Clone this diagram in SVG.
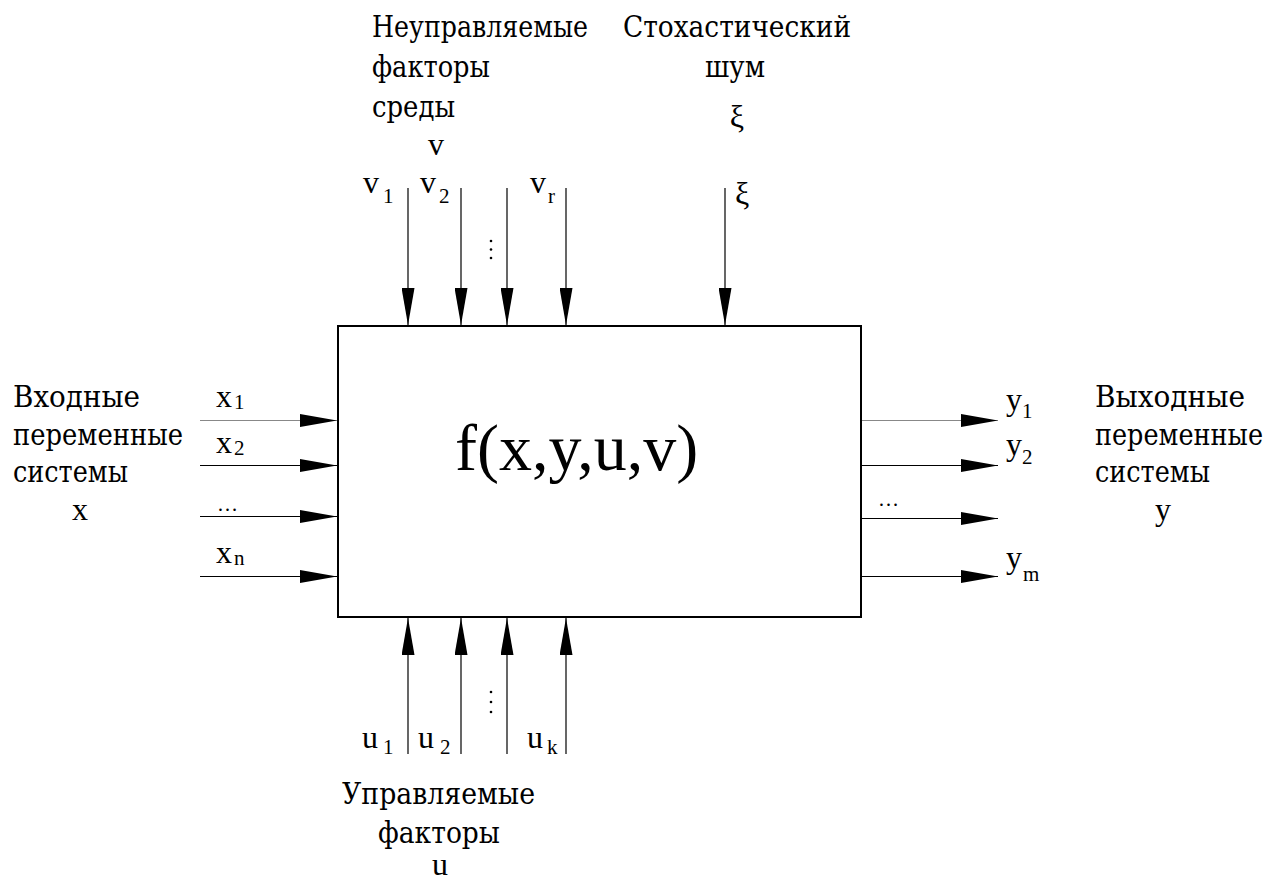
<svg xmlns="http://www.w3.org/2000/svg" width="1272" height="879" viewBox="0 0 1272 879">
<style>
text{font-family:"Liberation Serif","Times New Roman",serif;fill:#000}
.lb{font-size:32px}
.cy{font-family:"DejaVu Serif","Liberation Serif",serif;font-size:29px}
.sub{font-size:21px}
.ln{stroke:#000;stroke-width:1.2;fill:none}
.lg{stroke:#888;stroke-width:1.2;fill:none}
.box{fill:#fff;stroke:#000;stroke-width:2}
</style>
<defs>
<marker id="ah" viewBox="0 0 37 13" markerWidth="37" markerHeight="13" refX="37" refY="6.5" orient="auto" markerUnits="userSpaceOnUse">
<path d="M0,0 L37,6.5 L0,13 Z" fill="#000"/>
</marker>
</defs>
<rect width="1272" height="879" fill="#fff"/>
<g id="system">
<rect class="box" x="338" y="326" width="523" height="291"/>
<text x="455" y="470" font-size="66">f(x,y,u,v)</text>
</g>
<g id="connectors">
<line class="lg" x1="200" y1="420.5" x2="337" y2="420.5" marker-end="url(#ah)"/>
<line class="ln" x1="200" y1="465.5" x2="337" y2="465.5" marker-end="url(#ah)"/>
<line class="ln" x1="200" y1="516.5" x2="337" y2="516.5" marker-end="url(#ah)"/>
<line class="ln" x1="200" y1="576.5" x2="337" y2="576.5" marker-end="url(#ah)"/>
<line class="lg" x1="862" y1="420.5" x2="998" y2="420.5" marker-end="url(#ah)"/>
<line class="ln" x1="862" y1="465.5" x2="998" y2="465.5" marker-end="url(#ah)"/>
<line class="ln" x1="862" y1="518.5" x2="998" y2="518.5" marker-end="url(#ah)"/>
<line class="ln" x1="862" y1="576.5" x2="998" y2="576.5" marker-end="url(#ah)"/>
<line class="ln" x1="408" y1="188" x2="408" y2="325" marker-end="url(#ah)"/>
<line class="ln" x1="461" y1="188" x2="461" y2="325" marker-end="url(#ah)"/>
<line class="ln" x1="507" y1="188" x2="507" y2="325" marker-end="url(#ah)"/>
<line class="ln" x1="566" y1="188" x2="566" y2="325" marker-end="url(#ah)"/>
<line class="ln" x1="725" y1="188" x2="725" y2="325" marker-end="url(#ah)"/>
<line class="ln" x1="408" y1="754" x2="408" y2="618" marker-end="url(#ah)"/>
<line class="ln" x1="461" y1="754" x2="461" y2="618" marker-end="url(#ah)"/>
<line class="ln" x1="507" y1="754" x2="507" y2="618" marker-end="url(#ah)"/>
<line class="ln" x1="566" y1="754" x2="566" y2="618" marker-end="url(#ah)"/>
</g>
<g id="uncontrolled-factors">
<text class="cy" x="372" y="37" textLength="216" lengthAdjust="spacingAndGlyphs">Неуправляемые</text>
<text class="cy" x="372" y="77" textLength="118" lengthAdjust="spacingAndGlyphs">факторы</text>
<text class="cy" x="372" y="117" textLength="83" lengthAdjust="spacingAndGlyphs">среды</text>
<text class="lb" x="428" y="155">v</text>
<text class="lb" x="363" y="193">v</text><text class="sub" x="383" y="203">1</text>
<text class="lb" x="420" y="193">v</text><text class="sub" x="439" y="203">2</text>
<text class="lb" x="530" y="193">v</text><text class="sub" x="548" y="203">r</text>
<circle cx="491" cy="241" r="1.3"/><circle cx="491" cy="249.5" r="1.3"/><circle cx="491" cy="258" r="1.3"/>
</g>
<g id="noise">
<text class="cy" x="623" y="37" textLength="228" lengthAdjust="spacingAndGlyphs">Стохастический</text>
<text class="cy" x="705" y="77" textLength="60" lengthAdjust="spacingAndGlyphs">шум</text>
<text class="lb" x="737" y="127" text-anchor="middle">ξ</text>
<text class="lb" x="735" y="204">ξ</text>
</g>
<g id="inputs">
<text class="cy" x="13" y="407" textLength="127" lengthAdjust="spacingAndGlyphs">Входные</text>
<text class="cy" x="13" y="445" textLength="170" lengthAdjust="spacingAndGlyphs">переменные</text>
<text class="cy" x="13" y="482" textLength="115" lengthAdjust="spacingAndGlyphs">системы</text>
<text class="lb" x="72" y="520">x</text>
<text class="lb" x="216" y="407">x</text><text class="sub" x="234" y="409">1</text>
<text class="lb" x="216" y="453">x</text><text class="sub" x="234" y="455">2</text>
<text class="sub" x="217" y="511">…</text>
<text class="lb" x="216" y="563">x</text><text class="sub" x="234" y="565">n</text>
</g>
<g id="outputs">
<text class="cy" x="1095" y="407" textLength="150" lengthAdjust="spacingAndGlyphs">Выходные</text>
<text class="cy" x="1095" y="445" textLength="168" lengthAdjust="spacingAndGlyphs">переменные</text>
<text class="cy" x="1095" y="482" textLength="115" lengthAdjust="spacingAndGlyphs">системы</text>
<text class="lb" x="1155" y="520">y</text>
<text class="lb" x="1006" y="410">y</text><text class="sub" x="1022" y="418">1</text>
<text class="lb" x="1006" y="455">y</text><text class="sub" x="1022" y="464">2</text>
<text class="sub" x="878" y="506">…</text>
<text class="lb" x="1006" y="568">y</text><text class="sub" x="1023" y="581">m</text>
</g>
<g id="controlled-factors">
<text class="lb" x="362" y="748">u</text><text class="sub" x="383" y="754">1</text>
<text class="lb" x="418" y="748">u</text><text class="sub" x="440" y="754">2</text>
<text class="lb" x="527" y="748">u</text><text class="sub" x="547" y="754">k</text>
<circle cx="491" cy="692" r="1.3"/><circle cx="491" cy="702" r="1.3"/><circle cx="491" cy="712" r="1.3"/>
<text class="cy" x="342" y="804" textLength="193" lengthAdjust="spacingAndGlyphs">Управляемые</text>
<text class="cy" x="378" y="843" textLength="122" lengthAdjust="spacingAndGlyphs">факторы</text>
<text class="lb" x="432" y="875">u</text>
</g>
</svg>
